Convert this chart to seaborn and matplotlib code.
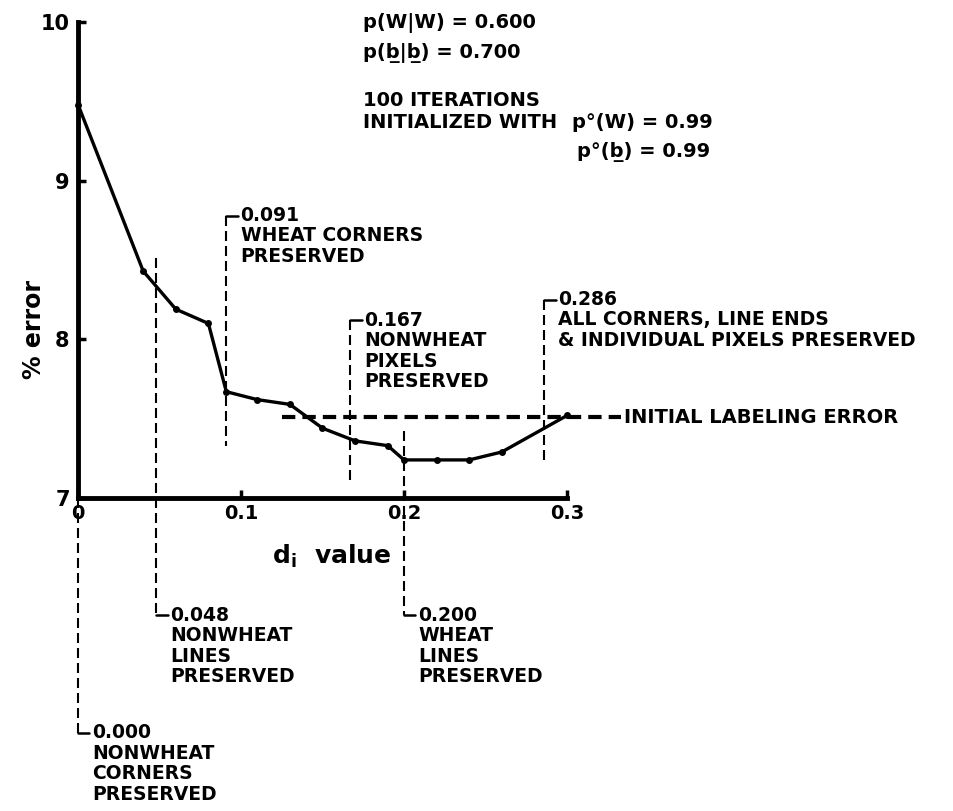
import matplotlib
matplotlib.use('Agg')
import matplotlib.pyplot as plt
import numpy as np
import pandas as pd
import seaborn as sns

sns.set_style('ticks')
plt.rcParams['font.family'] = ['DejaVu Sans']
plt.rcParams.update({'text.color': 'black', 'axes.labelcolor': 'black',
                     'xtick.color': 'black', 'ytick.color': 'black',
                     'font.weight': 'bold'})

# error curve
d_values = [0.0, 0.04, 0.06, 0.08, 0.091, 0.11, 0.13, 0.15, 0.17, 0.19, 0.20, 0.22, 0.24, 0.26, 0.30]
pct_error = [9.48, 8.43, 8.19, 8.10, 7.67, 7.62, 7.59, 7.44, 7.36, 7.33, 7.24, 7.24, 7.24, 7.29, 7.52]
initial_error = 7.51

x_ticks = [0, 0.1, 0.2, 0.3]
x_tick_labels = ['0', '0.1', '0.2', '0.3']
y_ticks = [7, 8, 9, 10]

# thresholds marked on the plot
note_d = [0.000, 0.048, 0.091, 0.167, 0.200, 0.286]
note_text = ['NONWHEAT\nCORNERS\nPRESERVED',
             'NONWHEAT\nLINES\nPRESERVED',
             'WHEAT CORNERS\nPRESERVED',
             'NONWHEAT\nPIXELS\nPRESERVED',
             'WHEAT\nLINES\nPRESERVED',
             'ALL CORNERS, LINE ENDS\n& INDIVIDUAL PIXELS PRESERVED']

# layout of the bracket lines (y range in data units, which end gets the hook)
note_span = [(7.0, 5.52, 'bottom'), (8.51, 6.26, 'bottom'), (8.78, 7.33, 'top'),
             (8.12, 7.10, 'top'), (7.42, 6.26, 'bottom'), (8.25, 7.24, 'top')]

df = pd.DataFrame({'d': d_values, 'err': pct_error})

fig = plt.figure(figsize=(9.54, 8.11), dpi=100)
ax = fig.add_axes([78 / 954, 1 - 498 / 811, (567 - 78) / 954, (498 - 22) / 811])

sns.lineplot(data=df, x='d', y='err', color='black', linewidth=2.4,
             marker='o', markersize=5, markeredgewidth=0, ax=ax, clip_on=False)

ax.set_xlim(0, 0.3)
ax.set_ylim(7, 10)
ax.set_xticks(x_ticks)
ax.set_xticklabels(x_tick_labels, fontsize=14, fontweight='bold')
ax.set_yticks(y_ticks)
ax.set_yticklabels([str(v) for v in y_ticks], fontsize=15, fontweight='bold')
ax.tick_params(axis='both', direction='in', length=6, width=2.5, color='black')
ax.tick_params(axis='y', pad=6)
ax.tick_params(axis='x', pad=4)
ax.set_xlabel('')
ax.set_ylabel('')
sns.despine(ax=ax)
for side in ['left', 'bottom']:
    ax.spines[side].set_linewidth(3.5)
    ax.spines[side].set_color('black')

# initial labeling error line
ax.plot([0.125, 0.333], [initial_error, initial_error], color='black', lw=3,
        dashes=(3.2, 1.7), clip_on=False)
ax.text(0.335, initial_error, 'INITIAL LABELING ERROR', fontsize=14,
        va='center', ha='left')

# threshold brackets
hook = 0.007
for d, txt, (y0, y1, end) in zip(note_d, note_text, note_span):
    ax.plot([d, d], [y0, y1], color='black', lw=1.5, dashes=(4.8, 2.4), clip_on=False)
    yc = y0 if end == 'top' else y1
    ax.plot([d, d + hook], [yc, yc], color='black', lw=1.8, clip_on=False)
    ax.annotate(f'{d:.3f}\n{txt}', xy=(d + hook, yc), xytext=(2, 7),
                textcoords='offset points', ha='left', va='top', fontsize=13.5,
                linespacing=1.1, annotation_clip=False)

ax.text(0.156, 6.63, r'd$_\mathregular{i}$  value', fontsize=18, ha='center', va='center')
ax.text(-0.027, 8.06, '% error', fontsize=17, rotation=90, ha='center', va='center')

# parameter block, top right
fig.text(363 / 954, 1 - 23 / 811, 'p(W|W) = 0.600', fontsize=14, va='center')
fig.text(363 / 954, 1 - 53 / 811, 'p(b\u0332|b\u0332) = 0.700', fontsize=14, va='center')
fig.text(363 / 954, 1 - 100 / 811, '100 ITERATIONS', fontsize=14, va='center')
fig.text(363 / 954, 1 - 122 / 811, 'INITIALIZED WITH', fontsize=14, va='center')
fig.text(572 / 954, 1 - 122 / 811, 'p\u00b0(W) = 0.99', fontsize=14, va='center')
fig.text(577 / 954, 1 - 152 / 811, 'p\u00b0(b\u0332) = 0.99', fontsize=14, va='center')

fig.savefig('out.png', dpi=100)
